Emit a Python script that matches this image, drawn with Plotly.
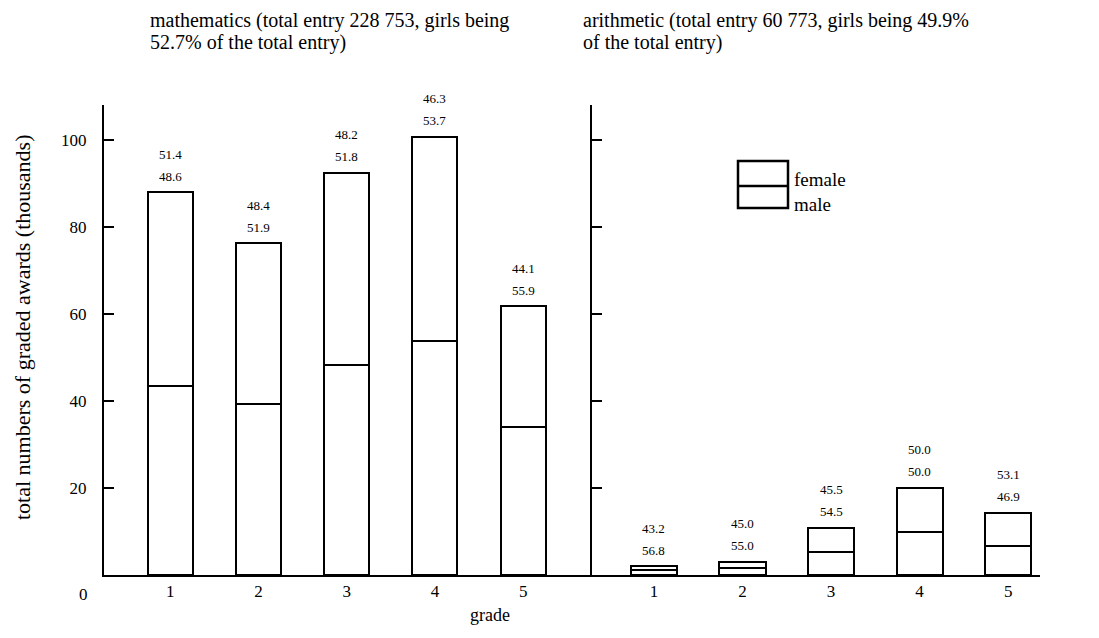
import plotly.graph_objects as go

grades = [1, 2, 3, 4, 5]
grade_labels = ["1", "2", "3", "4", "5"]

# mathematics (thousands)
math_male = [43.4, 39.4, 48.2, 53.8, 34.1]
math_female = [44.5, 36.8, 44.2, 46.9, 27.7]
math_female_pct = ["51.4", "48.4", "48.2", "46.3", "44.1"]
math_male_pct = ["48.6", "51.9", "51.8", "53.7", "55.9"]

# arithmetic (thousands)
arith_male = [1.1, 1.65, 5.3, 9.9, 6.7]
arith_female = [0.9, 1.35, 5.6, 10.2, 7.6]
arith_female_pct = ["43.2", "45.0", "45.5", "50.0", "53.1"]
arith_male_pct = ["56.8", "55.0", "54.5", "50.0", "46.9"]

y_ticks = [20, 40, 60, 80, 100]

math_title = ["mathematics (total entry 228 753, girls being", "52.7% of the total entry)"]
arith_title = ["arithmetic (total entry 60 773, girls being 49.9%", "of the total entry)"]

FONT = "Liberation Serif"
# page body has an 8px margin, so the figure is sized to fit the 1099x638 window
W, H = 1083, 622
L, R, T, B = 96, 51, 97, 55
PW = W - L - R
PH = H - T - B
OFF = 8


def px(x):  # screen x -> paper
    return (x - OFF - L) / PW


def py(y):  # screen y -> paper
    return (H - B - (y - OFF)) / PH


fig = go.Figure()
bar_style = dict(marker=dict(color="white", line=dict(color="black", width=2.5)), showlegend=False)

fig.add_trace(go.Bar(x=grades, y=math_male, width=0.51, xaxis="x", yaxis="y", **bar_style))
fig.add_trace(go.Bar(x=grades, y=math_female, width=0.51, xaxis="x", yaxis="y", **bar_style))
fig.add_trace(go.Bar(x=grades, y=arith_male, width=0.52, xaxis="x2", yaxis="y2", **bar_style))
fig.add_trace(go.Bar(x=grades, y=arith_female, width=0.52, xaxis="x2", yaxis="y2", **bar_style))

annotations = []
for xref, yref, males, females, fp, mp in [
    ("x", "y", math_male, math_female, math_female_pct, math_male_pct),
    ("x2", "y2", arith_male, arith_female, arith_female_pct, arith_male_pct),
]:
    for g, m, f, a, b in zip(grades, males, females, fp, mp):
        tot = m + f
        annotations.append(dict(x=g, y=tot, xref=xref, yref=yref, text=b, showarrow=False,
                                yanchor="middle", yshift=16,
                                font=dict(family=FONT, size=13, color="black")))
        annotations.append(dict(x=g, y=tot, xref=xref, yref=yref, text=a, showarrow=False,
                                yanchor="middle", yshift=38,
                                font=dict(family=FONT, size=13, color="black")))

TITLE_SIZE = 20
for x0, lines in [(148, math_title), (581, arith_title)]:
    for yy, line in zip([21, 43], lines):
        annotations.append(dict(x=px(x0), y=py(yy), xref="paper", yref="paper", text=line,
                                showarrow=False, xanchor="left", yanchor="middle",
                                font=dict(family=FONT, size=TITLE_SIZE, color="black")))
# y title
annotations.append(dict(x=px(22), y=py(327), xref="paper", yref="paper",
                        text="total numbers of graded awards (thousands)", textangle=-90,
                        showarrow=False, xanchor="center", yanchor="middle",
                        font=dict(family=FONT, size=22, color="black")))
# x title
annotations.append(dict(x=px(490), y=py(615), xref="paper", yref="paper", text="grade",
                        showarrow=False, xanchor="center", yanchor="middle",
                        font=dict(family=FONT, size=18, color="black")))
# zero label (drawn below the baseline, as in the original)
annotations.append(dict(x=0, y=0, xref="paper", yref="y", text="0", showarrow=False,
                        xanchor="right", yanchor="middle", xshift=-14, yshift=-19,
                        font=dict(family=FONT, size=17, color="black")))
# legend labels
annotations.append(dict(x=px(792), y=py(180), xref="paper", yref="paper", text="female",
                        showarrow=False, xanchor="left", yanchor="middle",
                        font=dict(family=FONT, size=19, color="black")))
annotations.append(dict(x=px(792), y=py(204), xref="paper", yref="paper", text="male",
                        showarrow=False, xanchor="left", yanchor="middle",
                        font=dict(family=FONT, size=19, color="black")))

shapes = [
    dict(type="rect", xref="paper", yref="paper", x0=px(738), x1=px(788), y0=py(161), y1=py(208),
         line=dict(color="black", width=2.5), fillcolor="white"),
    dict(type="line", xref="paper", yref="paper", x0=px(738), x1=px(788), y0=py(186), y1=py(186),
         line=dict(color="black", width=2.5)),
]

split = px(592)
axis_common = dict(showgrid=False, zeroline=False, showline=True, linecolor="black", linewidth=2)

fig.update_layout(
    width=W, height=H,
    margin=dict(l=L, r=R, t=T, b=B),
    barmode="stack",
    bargap=0,
    plot_bgcolor="white", paper_bgcolor="white",
    font=dict(family=FONT, size=17, color="black"),
    xaxis=dict(domain=[0, split], range=[0.25, 5.78], tickvals=grades, ticktext=grade_labels,
               ticks="", tickfont=dict(family=FONT, size=17), anchor="y", **axis_common),
    xaxis2=dict(domain=[split, 1], range=[0.30, 5.36], tickvals=grades, ticktext=grade_labels,
                ticks="", tickfont=dict(family=FONT, size=17), anchor="y2", **axis_common),
    yaxis=dict(range=[0, 108], tickvals=y_ticks, ticks="inside", ticklen=10, tickwidth=2,
               tickcolor="black", tickfont=dict(family=FONT, size=17), ticklabelstandoff=12,
               anchor="x", **axis_common),
    yaxis2=dict(range=[0, 108], tickvals=y_ticks, ticks="inside", ticklen=10, tickwidth=2,
                tickcolor="black", showticklabels=False, anchor="x2", **axis_common),
    annotations=annotations,
    shapes=shapes,
)

fig.write_html("out.html")
